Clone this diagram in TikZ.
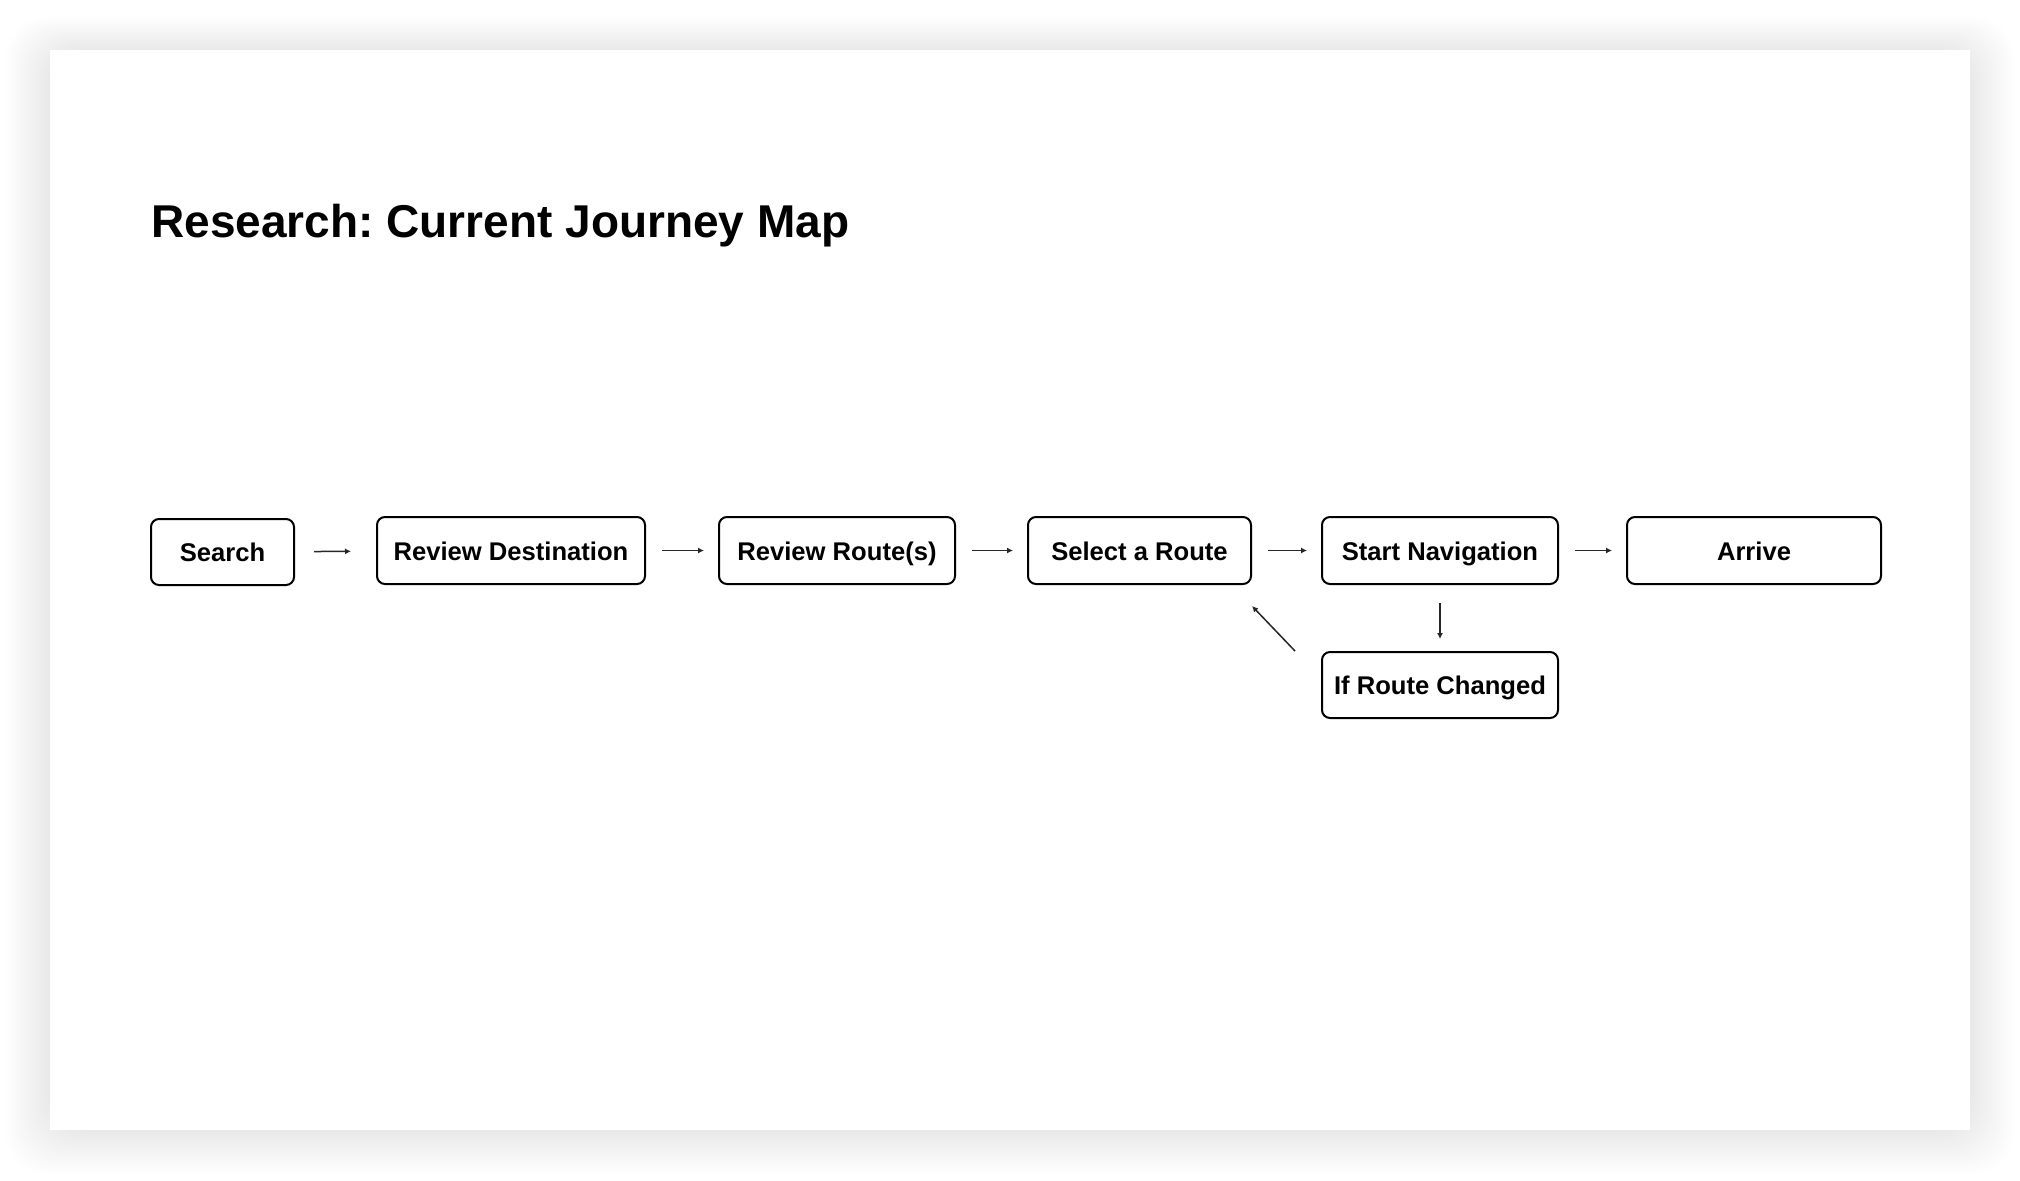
\documentclass[tikz,border=0pt]{standalone}
\usepackage{fontspec}
\setmainfont{Liberation Sans}
\usetikzlibrary{arrows.meta}
\frenchspacing

\tikzset{
  stage/.style={draw=black, line width=1pt, rounded corners=4pt, fill=white,
    minimum height=33.5pt, inner sep=0pt, text height=12.2pt, text depth=2.6pt,
    font=\fontsize{12.8}{15}\selectfont\bfseries},
  flow/.style={draw=black!85, line width=0.75pt, -{Latex[length=3pt,width=3pt]},
    shorten <=8pt, shorten >=7pt}
}

\begin{document}
\begin{tikzpicture}[x=0.5pt, y=-0.5pt]
  \useasboundingbox (0,0) rectangle (2020,1180);
  % soft shadow round the slide
  \foreach \s in {1,...,22}
    \fill[black, opacity=0.0045, rounded corners=20pt] (50-2*\s,50-1.5*\s) rectangle (1970+2*\s,1130+2*\s);
  \fill[white] (50,50) rectangle (1970,1130);

  \node[anchor=base west, inner sep=0pt, font=\fontsize{23}{28}\selectfont\bfseries] (title) at (151,237) {Research: Current Journey Map};

  % stages
  \node[stage, minimum width=71.5pt, minimum height=33pt] (search) at (222.5,552) {Search};
  \node[stage, minimum width=134pt] (revdest) at (511,550.5) {Review Destination};
  \node[stage, minimum width=118pt] (revroute) at (837,550.5) {Review Route(s)};
  \node[stage, minimum width=111.5pt] (select) at (1139.5,550.5) {Select a Route};
  \node[stage, minimum width=118pt] (startnav) at (1440,550.5) {Start Navigation};
  \node[stage, minimum width=127pt] (arrive) at (1754,550.5) {Arrive};
  \node[stage, minimum width=118pt, minimum height=33pt] (changed) at (1440,685) {If Route Changed};

  \draw[flow, shorten <=9.5pt, shorten >=12.5pt] (search) -- (revdest);
  \draw[flow] (revdest) -- (revroute);
  \draw[flow] (revroute) -- (select);
  \draw[flow] (select) -- (startnav);
  \draw[flow] (startnav) -- (arrive);
  \draw[flow, shorten <=9pt, shorten >=6pt] (startnav) -- (changed);
  \draw[flow, shorten <=0pt, shorten >=0pt] ([xshift=-13pt]changed.north west) -- ([yshift=-10.5pt]select.south east);
\end{tikzpicture}
\end{document}
